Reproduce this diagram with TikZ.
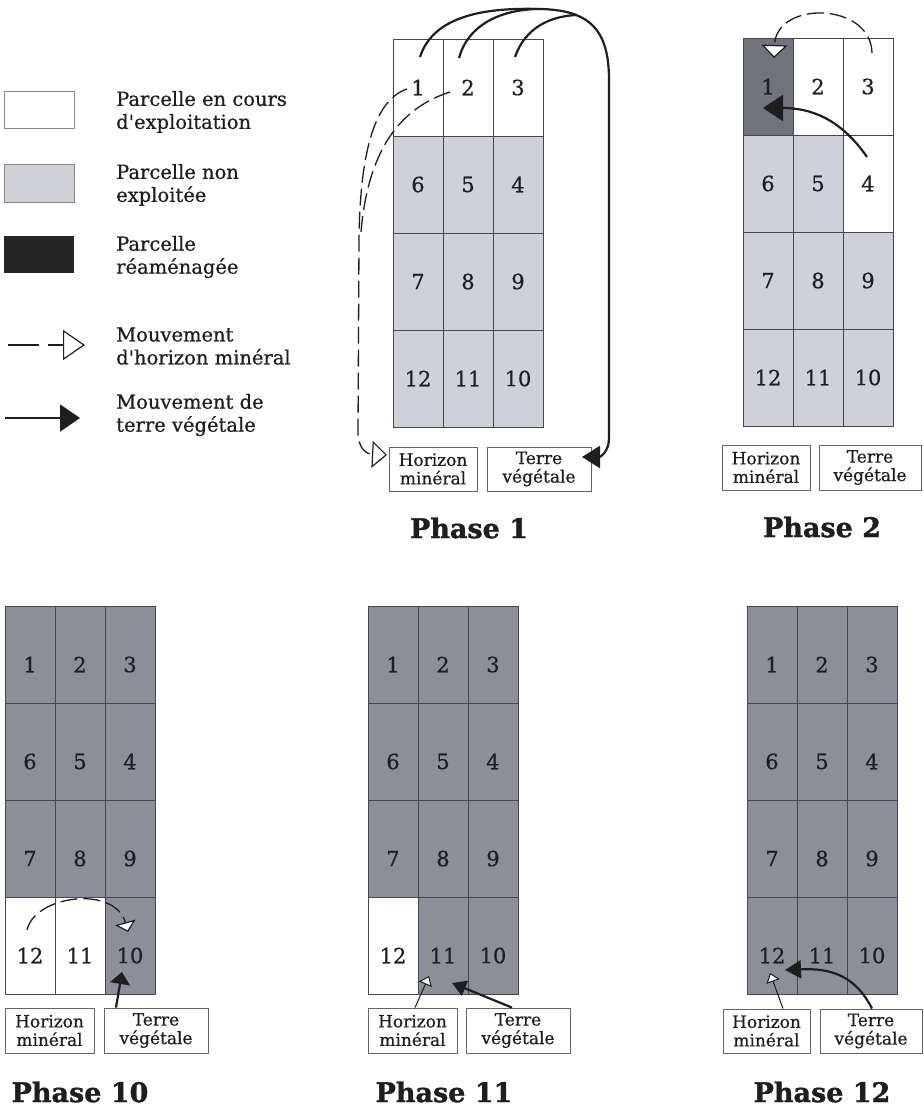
\documentclass[tikz,border=0pt]{standalone}
\usepackage{fontspec}
\setmainfont{DejaVu Serif}
\newfontfamily\medfont{DejaVu Serif}[FakeBold=0.6]
\newfontfamily\heavyfont{DejaVu Serif Bold}[FakeBold=1.2]
\usetikzlibrary{arrows.meta}
\definecolor{cl}{RGB}{207,209,218}
\definecolor{cd}{RGB}{139,143,154}
\definecolor{cdd}{RGB}{112,116,124}
\definecolor{ink}{RGB}{30,30,30}
\definecolor{gline}{RGB}{70,70,80}
\definecolor{legblack}{RGB}{37,37,37}
\tikzset{
 cell/.style={draw=gline, line width=0.7pt, minimum width=50pt, minimum height=97pt, inner sep=0pt, outer sep=0pt},
 num/.style={font=\medfont\fontsize{21}{21}\selectfont, text=ink, inner sep=0pt},
 lbox/.style={draw=black!60, line width=0.8pt, inner sep=0pt, align=center, font=\medfont\fontsize{17}{18.5}\selectfont, text=ink},
 ptitle/.style={font=\heavyfont\fontsize{27}{27}\selectfont, text=ink, inner sep=0pt},
 legtxt/.style={anchor=west, align=left, font=\medfont\fontsize{19.5}{23}\selectfont, text=ink, inner sep=0pt},
 legbox/.style={minimum width=70pt, minimum height=37pt, inner sep=0pt, line width=0.8pt},
 terre/.style={line width=2.2pt, draw=ink},
 horiz/.style={line width=1.3pt, draw=ink, dash pattern=on 17pt off 6pt},
 thinl/.style={line width=1pt, draw=ink},
}
\newcommand\drawgrid[5]{%
 \foreach \n/\c [count=\i from 0] in {#4}{%
   \pgfmathtruncatemacro\cc{mod(\i,3)}%
   \pgfmathtruncatemacro\rr{int(\i/3)}%
   \node[cell, fill=\c] (#1c\n) at ({#2+25+50*\cc},{#3+48.5+97*\rr}) {};
   \node[num] (#1n\n) at ([yshift=#5]#1c\n.center) {\n};
 }}
\begin{document}
\begin{tikzpicture}[x=1pt,y=-1pt]
\fill[white] (0,0) rectangle (923,1110);
\useasboundingbox (0,0) rectangle (923,1110);

% ---------- legend ----------
\node[legbox, draw=black!45, fill=white] (lg1) at (39,109.5) {};
\node[legbox, draw=black!45, fill=cl, minimum height=38pt] (lg2) at (39,183) {};
\node[legbox, fill=legblack] (lg3) at (39,254.5) {};
\node[legtxt] (lt1) at (116,112) {Parcelle en cours\\d\textquotesingle exploitation};
\node[legtxt] (lt2) at (116,185) {Parcelle non\\exploitée};
\node[legtxt] (lt3) at (116,257) {Parcelle\\réaménagée};
\node[legtxt] (lt4) at (116,346) {Mouvement\\d\textquotesingle horizon minéral};
\node[legtxt] (lt5) at (116,415) {Mouvement de\\terre végétale};
\coordinate (la1) at (8,345); \coordinate (la2) at (39,345);
\coordinate (la3) at (48,345); \coordinate (la4) at (85,345);
\draw[horiz, solid] (la1) -- (la2);
\draw[horiz, solid, -{Triangle[open,length=22pt,width=30pt,fill=white,line width=1.2pt]}] (la3) -- (la4);
\coordinate (lb1) at (5,418); \coordinate (lb2) at (80,418);
\draw[terre, -{Triangle[length=20pt,width=27pt]}] (lb1) -- (lb2);

% ---------- Phase 1 ----------
\drawgrid{a}{393}{39}{1/white,2/white,3/white,6/cl,5/cl,4/cl,7/cl,8/cl,9/cl,12/cl,11/cl,10/cl}{0pt}
\node[lbox, minimum width=88pt, minimum height=44pt] (ahm) at (433,469) {Horizon\\minéral};
\node[lbox, minimum width=104pt, minimum height=44pt] (atv) at (539,469) {Terre\\végétale};
\node[ptitle] (at) at (469,528) {Phase 1};
\coordinate (as1) at (420,57); \coordinate (as2) at (459,58); \coordinate (as3) at (515,57);
\coordinate (atip) at (582,457);
\draw[terre, -{Triangle[length=18pt,width=22pt]}] (as1) .. controls (435,10) and (500,8) .. (540,9) .. controls (590,10) and (609,30) .. (609,80) -- (609,438) .. controls (609,452) and (600,457) .. (atip);
\draw[terre] (as2) .. controls (468,25) and (500,10) .. (537,9);
\draw[terre] (as3) .. controls (525,28) and (550,16) .. (577,15);
\coordinate (ad1) at (407,89); \coordinate (ad2) at (450,92); \coordinate (adtip) at (387,455);
\draw[horiz, -{Triangle[open,length=15pt,width=27pt,fill=white,line width=1.2pt]}] (ad1) .. controls (375,100) and (360,150) .. (359,240) -- (358,432) .. controls (358,448) and (366,454) .. (adtip);
\draw[horiz] (ad2) .. controls (400,108) and (368,150) .. (361,232);

% ---------- Phase 2 ----------
\drawgrid{b}{743}{38}{1/cdd,2/white,3/white,6/cl,5/cl,4/white,7/cl,8/cl,9/cl,12/cl,11/cl,10/cl}{0pt}
\node[lbox, minimum width=88pt, minimum height=45pt] (bhm) at (766,467.5) {Horizon\\minéral};
\node[lbox, minimum width=102pt, minimum height=45pt] (btv) at (870,467.5) {Terre\\végétale};
\node[ptitle] (bt) at (822,527) {Phase 2};
\coordinate (bd1) at (872,53); \coordinate (bdtip) at (774,58);
\draw[horiz, -{Triangle[open,length=13pt,width=26pt,fill=white,line width=1.2pt]}] (bd1) .. controls (871,2) and (776,0) .. (bdtip);
\coordinate (bs1) at (867,157); \coordinate (bstip) at (763,108);
\draw[terre, -{Triangle[length=20pt,width=26pt]}] (bs1) .. controls (840,118) and (810,108) .. (bstip);

% ---------- Phase 10 ----------
\drawgrid{c}{5}{606}{1/cd,2/cd,3/cd,6/cd,5/cd,4/cd,7/cd,8/cd,9/cd,12/white,11/white,10/cd}{-10pt}
\node[lbox, minimum width=89pt, minimum height=45pt] (chm) at (49.5,1030.5) {Horizon\\minéral};
\node[lbox, minimum width=104pt, minimum height=45pt] (ctv) at (156,1030.5) {Terre\\végétale};
\node[ptitle] (ct) at (80,1092) {Phase 10};
\coordinate (cd1) at (27,930); \coordinate (cdtip) at (128,932);
\draw[horiz, -{Triangle[open,length=10pt,width=21pt,fill=white,line width=1.2pt]}] (cd1) .. controls (35,895) and (115,885) .. (cdtip);
\coordinate (cstip) at (122,972);
\draw[terre, -{Triangle[length=12pt,width=20pt]}] ([xshift=-40pt]ctv.north) -- (cstip);

% ---------- Phase 11 ----------
\drawgrid{d}{368}{606}{1/cd,2/cd,3/cd,6/cd,5/cd,4/cd,7/cd,8/cd,9/cd,12/white,11/cd,10/cd}{-10pt}
\node[lbox, minimum width=89pt, minimum height=45pt] (dhm) at (412.5,1030.5) {Horizon\\minéral};
\node[lbox, minimum width=104pt, minimum height=45pt] (dtv) at (518,1030.5) {Terre\\végétale};
\node[ptitle] (dt) at (444,1092) {Phase 11};
\coordinate (ddtip) at (429,976);
\draw[thinl, -{Triangle[open,length=9pt,width=14pt,fill=white,line width=1pt]}] ([xshift=2.5pt]dhm.north) -- (ddtip);
\coordinate (dstip) at (452,983);
\draw[terre, -{Triangle[length=14pt,width=16pt]}] ([xshift=-6pt]dtv.north) -- (dstip);

% ---------- Phase 12 ----------
\drawgrid{e}{747}{606}{1/cd,2/cd,3/cd,6/cd,5/cd,4/cd,7/cd,8/cd,9/cd,12/cd,11/cd,10/cd}{-10pt}
\node[lbox, minimum width=87pt, minimum height=44pt] (ehm) at (766.5,1031) {Horizon\\minéral};
\node[lbox, minimum width=102pt, minimum height=44pt] (etv) at (871,1031) {Terre\\végétale};
\node[ptitle] (et) at (822,1092) {Phase 12};
\coordinate (edtip) at (770,973);
\draw[thinl, -{Triangle[open,length=9pt,width=14pt,fill=white,line width=1pt]}] ([xshift=16.5pt]ehm.north) -- (edtip);
\coordinate (estip) at (785,970);
\draw[terre, -{Triangle[length=16pt,width=18pt]}] ([xshift=1pt]etv.north) .. controls (855,975) and (830,968) .. (estip);
\end{tikzpicture}
\end{document}
